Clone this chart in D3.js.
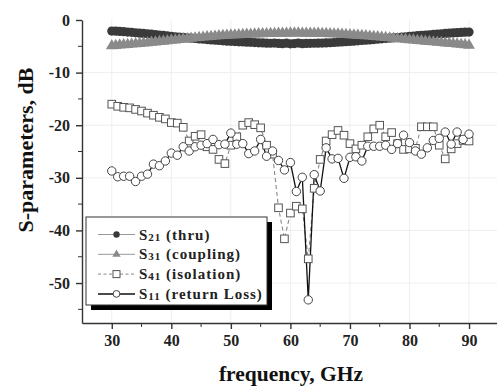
<!DOCTYPE html>
<html>
<head>
<meta charset="utf-8">
<script src="https://cdn.jsdelivr.net/npm/d3@7/dist/d3.min.js"></script>
<style>
  body { margin: 0; background: #fff; }
  svg { display: block; font-family: 'Liberation Serif', 'Times New Roman', serif; font-weight: bold; }
</style>
</head>
<body>
<svg id="chart" width="497" height="387"></svg>
<script>
// frequency grid of the measured S-parameters, GHz
const freq = [30, 31, 32, 33, 34, 35, 36, 37, 38, 39, 40, 41, 42, 43, 44, 45, 46, 47, 48, 49,
  50, 51, 52, 53, 54, 55, 56, 57, 58, 59, 60, 61, 62, 63, 64, 65, 66, 67, 68, 69,
  70, 71, 72, 73, 74, 75, 76, 77, 78, 79, 80, 81, 82, 83, 84, 85, 86, 87, 88, 89, 90];

// S21 / S31 were swept on a finer grid (91 points, 30..90 GHz)
const freqDense = d3.range(91).map((i) => 30 + i * 2 / 3);

const s21 = [-2.10, -2.12, -2.18, -2.22, -2.30, -2.35, -2.42, -2.50, -2.55, -2.62,
  -2.70, -2.78, -2.85, -2.92, -3.02, -3.10, -3.18, -3.25, -3.32, -3.40,
  -3.46, -3.52, -3.60, -3.66, -3.72, -3.78, -3.85, -3.90, -3.95, -4.02,
  -4.06, -4.10, -4.15, -4.18, -4.22, -4.25, -4.30, -4.33, -4.36, -4.40,
  -4.42, -4.38, -4.46, -4.50, -4.40, -4.52, -4.48, -4.38, -4.50, -4.45,
  -4.44, -4.42, -4.40, -4.38, -4.35, -4.32, -4.28, -4.22, -4.18, -4.12,
  -4.08, -4.02, -3.96, -3.90, -3.84, -3.78, -3.72, -3.66, -3.58, -3.52,
  -3.46, -3.40, -3.33, -3.26, -3.20, -3.12, -3.05, -2.98, -2.92, -2.85,
  -2.80, -2.74, -2.68, -2.62, -2.56, -2.50, -2.45, -2.40, -2.36, -2.32, -2.30];

const s31 = [-4.90, -4.85, -4.78, -4.72, -4.66, -4.60, -4.54, -4.47, -4.40, -4.33,
  -4.26, -4.18, -4.11, -4.04, -3.96, -3.88, -3.80, -3.72, -3.64, -3.56,
  -3.48, -3.41, -3.34, -3.27, -3.20, -3.14, -3.08, -3.02, -2.97, -2.92,
  -2.88, -2.84, -2.80, -2.76, -2.73, -2.70, -2.67, -2.64, -2.62, -2.60,
  -2.58, -2.56, -2.55, -2.54, -2.52, -2.50, -2.50, -2.50, -2.51, -2.52,
  -2.53, -2.54, -2.55, -2.57, -2.59, -2.62, -2.65, -2.68, -2.72, -2.76,
  -2.80, -2.85, -2.90, -2.96, -3.02, -3.08, -3.14, -3.20, -3.27, -3.34,
  -3.41, -3.48, -3.55, -3.62, -3.69, -3.76, -3.83, -3.90, -3.97, -4.04,
  -4.10, -4.17, -4.24, -4.30, -4.37, -4.44, -4.51, -4.58, -4.65, -4.72, -4.80];

const s41 = [-16.0, -16.4, -16.6, -16.7, -17.0, -17.3, -17.7, -18.1, -18.5, -18.8,
  -19.5, -19.6, -20.4, -23.0, -22.1, -21.8, -24.1, -24.6, -26.5, -27.3,
  -23.8, -22.2, -20.0, -19.5, -19.9, -20.5, -23.8, -25.5, -35.7, -41.6,
  -36.7, -35.4, -35.9, -45.4, -32.0, -26.5, -23.0, -21.8, -21.0, -21.9,
  -23.5, -24.5, -23.8, -22.2, -20.7, -20.0, -22.2, -21.4, -23.5, -24.6,
  -24.5, -24.4, -20.3, -20.3, -20.3, -23.8, -26.4, -24.5, -23.5, -22.9, -23.0];

const s11 = [-28.7, -29.8, -29.7, -29.7, -30.7, -29.7, -29.3, -27.4, -27.7, -26.8,
  -25.3, -25.7, -24.1, -24.9, -24.1, -23.8, -23.5, -22.7, -23.7, -23.6,
  -21.5, -23.6, -23.5, -25.4, -24.9, -22.7, -25.9, -24.9, -26.7, -28.5,
  -27.1, -32.6, -29.9, -53.2, -29.4, -32.5, -24.3, -26.4, -26.3, -30.1,
  -26.1, -26.0, -26.8, -24.0, -24.0, -24.0, -23.8, -24.6, -23.5, -21.9,
  -23.3, -24.9, -25.5, -24.3, -22.9, -22.5, -21.3, -23.6, -21.3, -22.7, -21.7];

const xTicks = [30, 40, 50, 60, 70, 80, 90];
const yTicks = [0, -10, -20, -30, -40, -50];

const legendItems = [
  { sub: '21', label: ' (thru)', shape: 'circle' },
  { sub: '31', label: ' (coupling)', shape: 'triangle' },
  { sub: '41', label: ' (isolation)', shape: 'square' },
  { sub: '11', label: ' (return Loss)', shape: 'ring' },
];

const svg = d3.select('#chart');
const margin = { top: 20, left: 82, bottom: 64 };
const height = 387;

const x = d3.scaleLinear().domain([25, 95]).range([margin.left, 498.8]);
const y = d3.scaleLinear().domain([-57.6, 0]).range([height - margin.bottom, margin.top]);

// faint grid
const grid = svg.append('g').attr('stroke', '#efefef').attr('stroke-width', 1);
grid.selectAll('.gx').data(xTicks).enter().append('line')
  .attr('x1', (d) => x(d)).attr('x2', (d) => x(d))
  .attr('y1', y.range()[1]).attr('y2', y.range()[0]);
grid.selectAll('.gy').data(yTicks.slice(1)).enter().append('line')
  .attr('y1', (d) => y(d)).attr('y2', (d) => y(d))
  .attr('x1', x.range()[0]).attr('x2', x.range()[1]);

// axes (plain hyphen for negative labels, as in the figure)
const xAxis = svg.append('g')
  .attr('transform', 'translate(0,' + y.range()[0] + ')')
  .call(d3.axisBottom(x).tickValues(xTicks).tickFormat((d) => String(d))
    .tickSize(6).tickPadding(6).tickSizeOuter(0));
xAxis.append('g').selectAll('line').data(d3.range(35, 95, 10)).enter().append('line')
  .attr('x1', (d) => x(d)).attr('x2', (d) => x(d)).attr('y1', 0).attr('y2', 4)
  .attr('stroke', '#333');

const yAxis = svg.append('g')
  .attr('transform', 'translate(' + x.range()[0] + ',0)')
  .call(d3.axisLeft(y).tickValues(yTicks).tickFormat((d) => String(d))
    .tickSize(6).tickPadding(6).tickSizeOuter(0));
yAxis.append('g').selectAll('line').data(d3.range(-5, -57, -10)).enter().append('line')
  .attr('y1', (d) => y(d)).attr('y2', (d) => y(d)).attr('x1', 0).attr('x2', -4)
  .attr('stroke', '#333');

svg.selectAll('.domain, .tick line').attr('stroke', '#333').attr('stroke-width', 1.4);
svg.selectAll('.tick text')
  .attr('font-family', "'Liberation Serif', serif")
  .attr('font-weight', 'bold').attr('font-size', 16).attr('fill', '#222');

// axis titles
svg.append('text')
  .attr('x', 291).attr('y', 381)
  .attr('text-anchor', 'middle').attr('font-size', 21.5).attr('fill', '#111')
  .text('frequency, GHz');
svg.append('text')
  .attr('transform', 'translate(33,150) rotate(-90)')
  .attr('text-anchor', 'middle').attr('font-size', 22).attr('fill', '#111')
  .text('S-parameters, dB');

const plot = svg.append('g');

// S21 thru: filled dark circles
plot.append('g').selectAll('circle').data(freqDense).enter().append('circle')
  .attr('cx', (d) => x(d)).attr('cy', (d, i) => y(s21[i])).attr('r', 4.6)
  .attr('fill', '#3a3a3a');

// S31 coupling: grey triangles
const tri = d3.symbol().type(d3.symbolTriangle).size(60);
plot.append('g').selectAll('path').data(freqDense).enter().append('path')
  .attr('d', tri)
  .attr('transform', (d, i) => 'translate(' + x(d) + ',' + y(s31[i]) + ')')
  .attr('fill', '#8a8a8a');

// S41 isolation: dashed line + open squares
const line41 = d3.line().x((d, i) => x(freq[i])).y((d) => y(d));
plot.append('path').datum(s41).attr('d', line41)
  .attr('fill', 'none').attr('stroke', '#888').attr('stroke-width', 1.1)
  .attr('stroke-dasharray', '4,3');

// S11 return loss: solid line + open circles
const line11 = d3.line().x((d, i) => x(freq[i])).y((d) => y(d));
plot.append('path').datum(s11).attr('d', line11)
  .attr('fill', 'none').attr('stroke', '#111').attr('stroke-width', 1.3);

plot.append('g').selectAll('rect').data(s41).enter().append('rect')
  .attr('x', (d, i) => x(freq[i]) - 3.8).attr('y', (d) => y(d) - 3.8)
  .attr('width', 7.6).attr('height', 7.6)
  .attr('fill', '#fff').attr('stroke', '#555').attr('stroke-width', 1);

plot.append('g').selectAll('circle').data(s11).enter().append('circle')
  .attr('cx', (d, i) => x(freq[i])).attr('cy', (d) => y(d)).attr('r', 4.2)
  .attr('fill', '#fff').attr('stroke', '#444').attr('stroke-width', 1);

// legend with drop shadow
const lg = svg.append('g');
lg.append('rect').attr('x', 91).attr('y', 222).attr('width', 181).attr('height', 88).attr('fill', '#000');
lg.append('rect').attr('x', 86).attr('y', 217).attr('width', 181).attr('height', 88)
  .attr('fill', '#fff').attr('stroke', '#333').attr('stroke-width', 1);

legendItems.forEach((it, i) => {
  const cy = 234.5 + i * 19.8;
  const row = lg.append('g');
  const ln = row.append('line').attr('x1', 98).attr('x2', 135).attr('y1', cy).attr('y2', cy);
  if (it.shape === 'circle') {
    ln.attr('stroke', '#999').attr('stroke-width', 1);
    row.append('circle').attr('cx', 116.5).attr('cy', cy).attr('r', 3.2).attr('fill', '#3a3a3a');
  } else if (it.shape === 'triangle') {
    ln.attr('stroke', '#999').attr('stroke-width', 1);
    row.append('path').attr('d', d3.symbol().type(d3.symbolTriangle).size(30))
      .attr('transform', 'translate(116.5,' + cy + ')').attr('fill', '#8a8a8a');
  } else if (it.shape === 'square') {
    ln.attr('stroke', '#888').attr('stroke-width', 1).attr('stroke-dasharray', '3,2.5');
    row.append('rect').attr('x', 113).attr('y', cy - 3.5).attr('width', 7).attr('height', 7)
      .attr('fill', '#fff').attr('stroke', '#555');
  } else {
    ln.attr('stroke', '#111').attr('stroke-width', 1.5);
    row.append('circle').attr('cx', 116.5).attr('cy', cy).attr('r', 3.4)
      .attr('fill', '#fff').attr('stroke', '#444');
  }
  const t = row.append('text').attr('x', 139).attr('y', cy + 5)
    .attr('font-size', 15).attr('fill', '#222').attr('letter-spacing', 1);
  t.append('tspan').text('S');
  t.append('tspan').attr('font-size', 11).attr('dy', 1).text(it.sub);
  t.append('tspan').attr('dy', -1).text(it.label);
});
</script>
</body>
</html>
